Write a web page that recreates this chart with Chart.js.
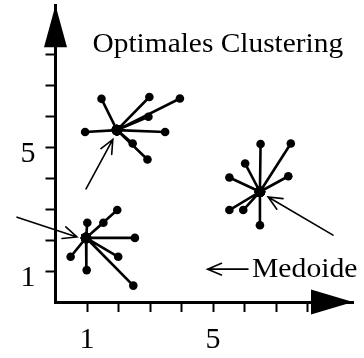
<!DOCTYPE html>
<html>
<head>
<meta charset="utf-8">
<script src="https://cdn.jsdelivr.net/npm/chart.js@4.4.0/dist/chart.umd.min.js"></script>
<style>
  html, body { margin: 0; padding: 0; background: #fff; }
  #wrap { width: 364px; height: 358px; }
</style>
</head>
<body>
<div id="wrap"><canvas id="clustering"></canvas></div>
<script>
// Cluster oben links: Medoid + Objekte (x, y)
const medoidA = [1.95, 5.55];
const objekteA = [[1.46, 6.56], [2.98, 6.62], [3.95, 6.57], [2.95, 5.98], [0.94, 5.49], [3.48, 5.49], [2.45, 5.12], [2.92, 4.60]];

// Cluster rechts
const medoidB = [6.49, 3.56];
const objekteB = [[6.51, 5.10], [7.47, 5.12], [6.02, 4.47], [5.52, 4.02], [7.39, 4.06], [5.52, 2.97], [5.96, 2.97], [6.49, 2.48]];

// Cluster unten links
const medoidC = [0.97, 2.07];
const objekteC = [[1.96, 2.97], [1.01, 2.56], [1.52, 2.56], [2.52, 2.07], [0.48, 1.46], [1.99, 1.46], [0.99, 1.03], [2.47, 0.53]];

const xTickValues = [1, 2, 3, 4, 5, 6, 7, 8];
const xTickLabels = ['1', '', '', '', '5', '', '', ''];
const yTickValues = [1, 2, 3, 4, 5, 6, 7, 8];
const yTickLabels = ['1', '', '', '', '5', '', '', ''];

// Pfeile auf die Medoide: [von x, von y, nach x, nach y]
const medoidPfeile = [
  [0.97, 3.65, 1.82, 5.25],
  [8.81, 2.16, 6.75, 3.39],
  [-1.22, 2.74, 0.68, 2.10]
];
const legendePfeil = [6.11, 1.06, 4.83, 1.06];
const titelText = 'Optimales Clustering';
const legendeText = 'Medoide';

const SERIF = '"Liberation Serif", "Times New Roman", serif';

// Stern: Medoid -> Objekt -> Medoid -> ...
function sternDaten(m, objekte) {
  const d = [];
  objekte.forEach(p => {
    d.push({ x: m[0], y: m[1] });
    d.push({ x: p[0], y: p[1] });
  });
  d.push({ x: m[0], y: m[1] });
  return d;
}

function sternDataset(m, objekte) {
  return {
    data: sternDaten(m, objekte),
    showLine: true,
    borderColor: '#000',
    borderWidth: 2.6,
    borderJoinStyle: 'round',
    backgroundColor: '#000',
    pointBackgroundColor: '#000',
    pointBorderWidth: 0,
    pointRadius: ctx => (ctx.dataIndex % 2 === 0 ? 5.3 : 4.3)
  };
}

function zeichnePfeil(ctx, x1, y1, x2, y2, len, winkel) {
  const a = Math.atan2(y2 - y1, x2 - x1);
  ctx.beginPath();
  ctx.moveTo(x1, y1);
  ctx.lineTo(x2, y2);
  ctx.moveTo(x2 - len * Math.cos(a - winkel), y2 - len * Math.sin(a - winkel));
  ctx.lineTo(x2, y2);
  ctx.lineTo(x2 - len * Math.cos(a + winkel), y2 - len * Math.sin(a + winkel));
  ctx.stroke();
}

// Text leicht in die Breite gezogen
function breiterText(ctx, text, x, y, sx) {
  ctx.save();
  ctx.translate(x, y);
  ctx.scale(sx, 1);
  ctx.fillText(text, 0, 0);
  ctx.restore();
}

const achsenUndPfeile = {
  id: 'achsenUndPfeile',
  afterDraw(chart) {
    const { ctx, chartArea: ca, scales: { x, y } } = chart;
    ctx.save();
    ctx.fillStyle = '#000';
    ctx.strokeStyle = '#000';

    // Pfeilspitzen der Achsen
    ctx.beginPath();
    ctx.moveTo(ca.left, ca.top);
    ctx.lineTo(ca.left - 11.5, ca.top + 42);
    ctx.lineTo(ca.left + 11.5, ca.top + 42);
    ctx.closePath();
    ctx.fill();

    ctx.beginPath();
    ctx.moveTo(ca.right, ca.bottom);
    ctx.lineTo(ca.right - 42, ca.bottom - 12.5);
    ctx.lineTo(ca.right - 42, ca.bottom + 12.5);
    ctx.closePath();
    ctx.fill();

    // Hinweispfeile
    ctx.lineWidth = 1.6;
    ctx.lineCap = 'round';
    medoidPfeile.forEach(p => {
      zeichnePfeil(ctx, x.getPixelForValue(p[0]), y.getPixelForValue(p[1]),
        x.getPixelForValue(p[2]), y.getPixelForValue(p[3]), 15, 0.42);
    });
    const lx1 = x.getPixelForValue(legendePfeil[0]);
    const ly = y.getPixelForValue(legendePfeil[1]);
    zeichnePfeil(ctx, lx1, ly, x.getPixelForValue(legendePfeil[2]), ly, 15, 0.4);

    // Texte
    ctx.textBaseline = 'alphabetic';
    ctx.textAlign = 'left';
    ctx.font = '28px ' + SERIF;
    breiterText(ctx, legendeText, lx1 + 4, ly + 8, 1.06);
    breiterText(ctx, titelText, ca.left + 37, ca.top + 47, 1.05);
    ctx.restore();
  }
};

new Chart(document.getElementById('clustering'), {
  type: 'scatter',
  data: {
    datasets: [
      sternDataset(medoidA, objekteA),
      sternDataset(medoidB, objekteB),
      sternDataset(medoidC, objekteC)
    ]
  },
  options: {
    responsive: true,
    maintainAspectRatio: false,
    animation: false,
    events: [],
    layout: { padding: { top: 5, right: 11, left: 0, bottom: 0 } },
    plugins: { legend: { display: false }, tooltip: { enabled: false } },
    scales: {
      x: {
        type: 'linear',
        min: 0,
        max: 9.444,
        afterFit: s => { s.height = 56; s.paddingLeft = 0; s.paddingRight = 0; },
        afterBuildTicks: s => { s.ticks = xTickValues.map(v => ({ value: v })); },
        grid: { drawOnChartArea: false, drawTicks: true, tickLength: 10, tickWidth: 2, tickColor: '#000' },
        border: { display: true, color: '#000', width: 3 },
        ticks: {
          color: '#000',
          padding: 10,
          maxRotation: 0,
          autoSkip: false,
          font: { family: SERIF, size: 30 },
          callback: (v) => xTickLabels[xTickValues.indexOf(v)] ?? ''
        }
      },
      y: {
        type: 'linear',
        min: 0,
        max: 9.58,
        afterFit: s => { s.width = 55.5; s.paddingTop = 0; s.paddingBottom = 0; },
        afterBuildTicks: s => { s.ticks = yTickValues.map(v => ({ value: v })); },
        grid: { drawOnChartArea: false, drawTicks: true, tickLength: 10, tickWidth: 2, tickColor: '#000' },
        border: { display: true, color: '#000', width: 3 },
        ticks: {
          color: '#000',
          padding: 10,
          labelOffset: 7,
          autoSkip: false,
          font: { family: SERIF, size: 30 },
          callback: (v) => yTickLabels[yTickValues.indexOf(v)] ?? ''
        }
      }
    }
  },
  plugins: [achsenUndPfeile]
});
</script>
</body>
</html>
